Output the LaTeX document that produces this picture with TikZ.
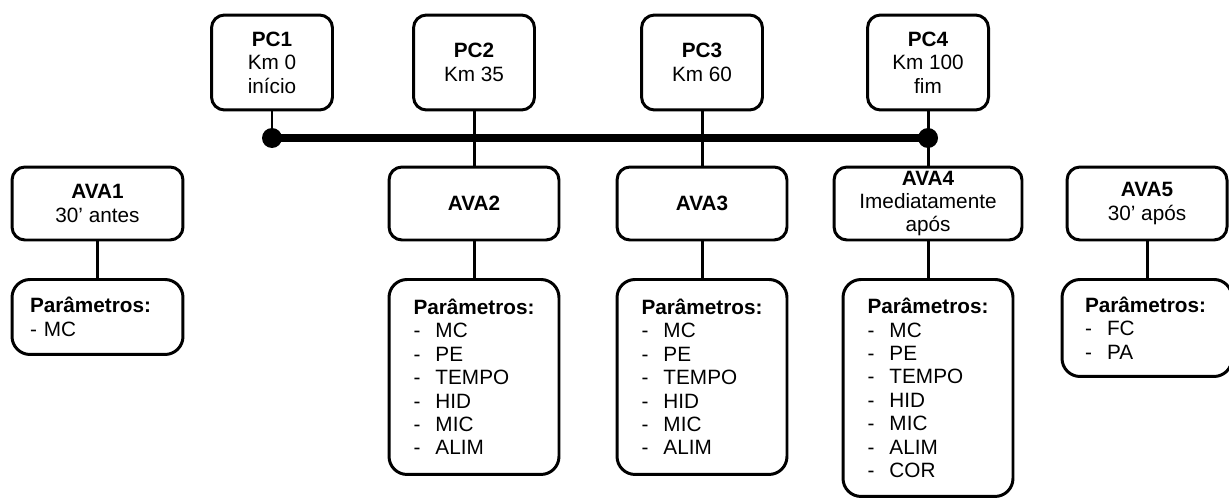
\documentclass[tikz,border=0pt]{standalone}
\usepackage{fontspec}
\setmainfont{Liberation Sans}
\newcommand{\itm}[1]{\makebox[0.44cm][l]{-}#1}
\begin{document}
\begin{tikzpicture}[x=0.02cm,y=-0.02cm,
  box/.style={draw,fill=white,line width=1.7pt,rounded corners=0.26cm,align=center,inner sep=0pt,font=\fontsize{11.8}{13.3}\selectfont},
  pcbox/.style={box,minimum width=2.42cm,minimum height=1.9cm},
  avabox/.style={box,minimum width=3.4cm,minimum height=1.46cm},
  parbox/.style={box,align=left,rounded corners=0.36cm,minimum width=3.4cm,anchor=north},
  link/.style={line width=1.7pt},
  bus/.style={line width=4pt}]
  \useasboundingbox (0,0) rectangle (1229,497);
  \node[pcbox] (pc1) at (272,62.5) {\textbf{PC1}\\Km 0\\início};
  \node[pcbox] (pc2) at (474,62.5) {\textbf{PC2}\\Km 35};
  \node[pcbox] (pc3) at (702,62.5) {\textbf{PC3}\\Km 60};
  \node[pcbox] (pc4) at (928,62.5) {\textbf{PC4}\\Km 100\\fim};
  \node[avabox,minimum width=3.42cm] (ava1) at (97.5,203.5) {\textbf{AVA1}\\30’ antes};
  \node[avabox] (ava2) at (474,203.5) {\textbf{AVA2}};
  \node[avabox] (ava3) at (702,203.5) {\textbf{AVA3}};
  \node[avabox,minimum width=3.76cm] (ava4) at (928,203.5) {\textbf{AVA4}\\Imediatamente\\após};
  \node[avabox,minimum width=3.2cm] (ava5) at (1147,203.5) {\textbf{AVA5}\\30’ após};
  \node[parbox,text width=2.7cm,inner xsep=0.36cm,minimum height=1.5cm] (par1) at (97.5,278) {\textbf{Parâmetros:}\\- MC};
  \node[parbox,minimum height=3.9cm] (par2) at (474,278) {\textbf{Parâmetros:}\\\itm{MC}\\\itm{PE}\\\itm{TEMPO}\\\itm{HID}\\\itm{MIC}\\\itm{ALIM}};
  \node[parbox,minimum height=3.9cm] (par3) at (702,278) {\textbf{Parâmetros:}\\\itm{MC}\\\itm{PE}\\\itm{TEMPO}\\\itm{HID}\\\itm{MIC}\\\itm{ALIM}};
  \node[parbox,minimum height=4.34cm] (par4) at (928,278) {\textbf{Parâmetros:}\\\itm{MC}\\\itm{PE}\\\itm{TEMPO}\\\itm{HID}\\\itm{MIC}\\\itm{ALIM}\\\itm{COR}};
  \node[parbox,text width=2.48cm,inner xsep=0.36cm,minimum height=1.94cm] (par5) at (1147,278) {\textbf{Parâmetros:}\\\itm{FC}\\\itm{PA}};
  \coordinate (d1) at (272,138);
  \coordinate (d4) at (928,138);
  \draw[bus] (d1) -- (d4);
  \draw[link] (pc1) -- (d1);
  \draw[link] (pc2) -- (ava2);
  \draw[link] (pc3) -- (ava3);
  \draw[link] (pc4) -- (ava4);
  \foreach \i in {1,...,5}
    \draw[link] (ava\i) -- (par\i);
  \fill (d1) circle (0.2cm);
  \fill (d4) circle (0.2cm);
\end{tikzpicture}
\end{document}
